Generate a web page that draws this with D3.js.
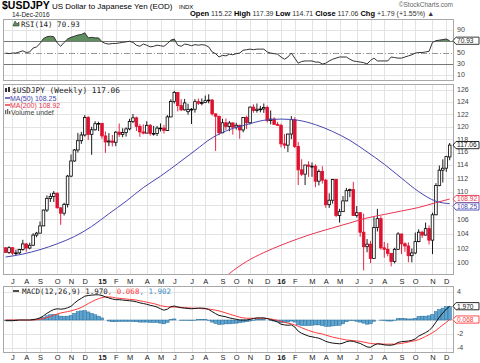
<!DOCTYPE html>
<html>
<head>
<meta charset="utf-8">
<script src="https://cdn.jsdelivr.net/npm/d3@7"></script>
<style>
  body { margin: 0; background: #fff; }
</style>
</head>
<body>
<div id="container"></div>
<script>
// weekly candles, USD/JPY, week of 2014-06-23 .. week of 2016-12-12
let opens = [102.05,101.40,102.07,101.33,101.36,101.82,102.58,102.02,102.40,103.80,104.07,105.08,107.33,109.01,109.28,109.76,107.65,106.88,108.15,112.31,114.60,116.30,117.75,118.65,121.45,118.75,119.48,120.45,
  120.50,118.50,117.55,117.70,117.50,119.10,118.75,119.03,119.62,120.80,121.40,120.03,119.13,118.95,120.20,118.90,118.90,119.75,119.75,119.37,121.55,124.10,125.60,123.40,122.70,122.40,122.78,122.80,124.05,123.80,123.90,124.22,124.32,122.05,121.65,119.00,120.60,120.00,120.57,119.90,120.20,119.45,121.45,120.60,123.15,122.60,122.80,122.85,123.10,120.95,121.20,120.35,
  120.20,117.25,117.05,118.80,121.10,116.85,113.25,112.60,113.98,113.80,113.80,111.55,113.00,111.70,108.10,108.75,111.80,106.55,107.10,108.65,110.15,110.30,106.55,106.95,104.20,102.20,102.55,100.60,104.85,106.10,102.05,101.85,101.30,100.20,101.85,103.95,102.60,102.30,100.98,101.35,102.90,104.20,103.80,104.70,103.10,106.65,110.90,113.20,113.50,115.22];
let highs = [102.15,102.27,102.10,101.80,101.90,103.15,102.70,102.75,104.05,104.25,105.70,107.38,109.45,109.75,110.09,109.90,107.75,108.38,112.48,115.60,116.45,118.98,119.15,121.85,121.70,119.95,120.85,120.77,
  120.60,119.20,118.95,118.65,119.25,120.48,119.72,119.85,121.25,122.03,121.60,120.38,120.35,120.85,120.40,120.10,120.10,120.50,120.25,121.85,124.45,125.86,125.60,124.45,124.50,123.70,123.00,124.48,124.58,124.58,125.07,125.28,124.52,122.10,121.75,121.25,121.30,120.90,120.70,120.60,120.30,121.50,121.75,123.25,123.60,123.75,123.35,123.75,123.40,122.60,121.50,120.75,
  120.45,118.80,118.85,121.68,121.50,117.55,114.87,114.00,114.55,114.38,114.10,113.32,113.80,111.90,109.75,111.90,111.90,107.50,109.35,110.55,110.45,111.45,107.90,107.00,106.82,103.25,103.00,106.32,107.50,106.45,102.85,102.70,101.35,102.05,104.20,104.00,102.80,102.80,101.95,104.15,104.60,104.40,105.55,105.15,106.95,111.25,113.90,114.85,115.40,117.39];
let lows = [101.35,101.23,101.07,101.07,101.20,101.65,101.51,101.85,102.30,103.50,104.05,105.05,107.05,108.50,108.50,107.56,105.23,106.55,107.70,112.15,114.50,115.90,117.25,118.40,117.88,115.55,119.35,119.30,
  118.05,115.86,116.90,116.85,116.90,118.35,118.30,118.40,119.40,120.55,119.28,118.35,118.75,118.90,118.55,118.55,118.50,119.20,118.88,119.30,121.50,123.75,122.45,122.50,122.60,121.93,120.40,122.25,123.50,123.45,123.80,123.78,121.75,116.15,118.62,118.95,119.45,119.25,118.70,119.50,118.06,119.08,119.60,120.35,122.23,122.25,122.30,122.20,120.65,120.35,120.28,120.10,
  116.70,116.50,115.98,118.00,116.60,110.98,112.30,110.98,112.20,112.20,110.67,110.92,111.20,107.65,107.63,108.25,106.30,105.55,107.08,108.60,109.20,106.50,106.25,103.55,99.02,101.45,99.98,100.55,104.30,101.80,100.70,100.90,99.55,99.95,101.75,101.20,101.50,100.10,100.09,101.20,102.80,103.40,103.75,102.50,101.20,106.60,110.80,111.35,112.95,114.71];
let closes = [101.40,102.07,101.33,101.36,101.82,102.58,102.02,102.40,103.80,104.07,105.08,107.33,109.01,109.28,109.76,107.65,106.88,108.15,112.31,114.60,116.30,117.75,118.65,121.45,118.75,119.48,120.45,120.50,
  118.50,117.55,117.70,117.50,119.10,118.75,119.03,119.62,120.80,121.40,120.03,119.13,118.95,120.20,118.90,118.90,119.75,119.75,119.37,121.55,124.10,125.60,123.40,122.70,123.85,122.78,122.80,124.05,123.80,123.90,124.22,124.32,122.05,121.65,119.00,120.60,120.00,120.57,119.90,120.20,119.45,121.45,120.60,123.15,122.60,122.80,122.85,123.10,120.95,121.20,120.35,120.20,
  117.25,117.05,118.80,121.10,116.85,113.25,112.60,113.98,113.80,113.80,111.55,113.00,111.70,108.10,108.75,111.80,106.55,107.10,108.65,110.15,110.30,106.55,106.95,104.20,102.20,102.55,100.60,104.85,106.10,102.05,101.85,101.30,100.20,101.85,103.95,102.60,102.30,100.98,101.35,102.90,104.20,103.80,104.70,103.10,106.65,110.90,113.20,113.50,115.27,117.06];

// moving averages, read at selected weeks (week index into the candles)
let ma50Weeks = [0,5,10,15,20,25,30,35,40,45,50,55,60,65,70,75,80,85,90,95,100,105,110,115,120,125,129];
let ma50 = [100.8,101.2,101.8,102.6,103.6,105.0,106.8,108.6,110.6,112.3,114.2,116.2,118.2,119.5,120.3,121.0,121.2,121.0,120.3,119.2,117.8,116.0,114.1,112.0,110.0,108.6,108.25];
let ma200Weeks = [61,65,70,75,80,85,90,95,100,105,110,115,120,125,129];
let ma200 = [97.0,98.6,100.2,101.4,102.4,103.3,104.1,104.8,105.5,106.2,106.7,107.2,107.7,108.4,108.92];

// RSI(14), weekly
let rsi = [49,48,49,49,51,53,50,51,58,60,66,75,78,79,78,67,61,68,74,77,79,81,82,85,76,77,76,76,
  69,66,65,66,66,67,68,69,70,68,63,61,65,63,60,61,63,62,61,66,72,74,63,61,65,64,62,64,63,64,63,60,51,48,42,45,44,47,46,48,49,54,55,56,55,56,56,56,51,49,48,47,
  42,38,42,49,40,31,34,35,35,35,33,33,29.5,31,35,38,40,42,42,42,38,35,34,33,32,29.5,36,40,35,35,35,35,42,41,40,40,42,44,46,49,50,50,51,52,68,71,72,73,74,70.93];

// MACD(12,26,9), weekly
let macd = [-0.1,-0.1,-0.1,-0.05,0,0,0,0,0.05,0.15,0.3,0.6,0.95,1.25,1.5,1.6,1.55,1.6,1.75,1.95,2.4,2.8,3.1,3.4,3.5,3.55,3.6,3.6,
  3.5,3.3,3.15,3.0,2.9,2.9,2.85,2.8,2.75,2.7,2.6,2.45,2.35,2.25,2.1,2.0,1.85,1.6,1.4,1.55,1.9,2.0,1.85,1.75,1.7,1.65,1.6,1.65,1.7,1.7,1.65,1.5,1.2,0.9,0.65,0.55,0.45,0.3,0.2,0.1,0,0,0,0.1,0.2,0.3,0.3,0.3,0.2,0.05,-0.1,-0.3,
  -0.6,-0.7,-0.75,-0.7,-1.0,-1.6,-1.9,-2.1,-2.3,-2.4,-2.5,-2.6,-2.8,-3.05,-3.2,-3.3,-3.35,-3.4,-3.3,-3.1,-3.0,-3.05,-3.2,-3.35,-3.6,-3.85,-3.9,-3.6,-3.4,-3.45,-3.55,-3.6,-3.6,-3.5,-3.2,-3.1,-3.05,-3.0,-2.9,-2.7,-2.3,-2.05,-1.8,-1.5,-1.0,-0.3,0.4,1.0,1.55,1.97];
let signal = [0,0,0,0,0,0,0,0,0,0.05,0.1,0.2,0.35,0.5,0.7,0.85,1.0,1.1,1.2,1.3,1.45,1.6,1.8,2.05,2.35,2.6,2.85,3.05,
  3.2,3.3,3.3,3.25,3.15,3.1,3.05,3.0,2.95,2.9,2.85,2.75,2.65,2.55,2.45,2.35,2.2,2.05,1.95,1.9,1.85,1.85,1.85,1.8,1.75,1.72,1.7,1.68,1.65,1.62,1.6,1.55,1.5,1.4,1.3,1.15,1.0,0.85,0.7,0.55,0.4,0.3,0.25,0.25,0.25,0.25,0.25,0.25,0.2,0.15,0.05,-0.05,
  -0.2,-0.35,-0.45,-0.55,-0.7,-0.9,-1.1,-1.3,-1.5,-1.65,-1.8,-1.9,-2.0,-2.15,-2.3,-2.45,-2.55,-2.65,-2.75,-2.85,-2.9,-2.95,-3.0,-3.05,-3.15,-3.25,-3.35,-3.4,-3.4,-3.42,-3.45,-3.45,-3.45,-3.45,-3.4,-3.35,-3.25,-3.15,-3.05,-2.95,-2.8,-2.6,-2.35,-2.1,-1.8,-1.5,-1.1,-0.7,-0.35,0.068];

let monthLabels = ["J","A","S","O","N","D","15","F","M","A","M","J","J","A","S","O","N","D","16","F","M","A","M","J","J","A","S","O","N","D"];
let priceTicks = [100,102,104,106,108,110,112,114,116,118,120,122,124,126];
let priceLabels = [100,102,104,106,110,112,114,116,118,120,122,124,126];
let rsiTicks = [90,70,50,30,10];
let rsiLabels = [90,50,30,10];
let macdTicks = [4,2,0,-2,-4];
let macdLabels = [4,-2,-4];

let w = 480;
let h = 363;
let left = 3;
let right = 453;

let rsiPanel = { top: 19, bottom: 80 };
let mainPanel = { top: 84, bottom: 274 };
let macdPanel = { top: 286, bottom: 352 };

let up = "#000";
let down = "#e0102f";
let gridColor = "#e3e3e3";
let tickColor = "#444";

let viz = d3.select("#container")
  .append("svg")
  .attr("width", w)
  .attr("height", h)
  .style("background-color", "white")
  .style("font-family", "'Liberation Sans', Arial, sans-serif");

let weeks = d3.utcMonday.range(new Date(Date.UTC(2014, 5, 23)), new Date(Date.UTC(2016, 11, 13)));
let xScale = d3.scaleUtc().domain([weeks[0], weeks[weeks.length - 1]]).range([5.6, 449.7]);
let xi = function(i) { return xScale(weeks[i]); };
let step = xi(1) - xi(0);

let months = d3.utcMonth.range(new Date(Date.UTC(2014, 6, 1)), new Date(Date.UTC(2016, 11, 2)));
let monthX = months.map(function(m) { return xScale(d3.utcMonday.ceil(m)); });

let yRsi = d3.scaleLinear().domain([10, 90]).range([75, 30]);
let yPrice = d3.scaleLog().domain([100, 126]).range([263, 90]);
let yMacd = d3.scaleLinear().domain([-4, 4]).range([348, 292]);

// panel backgrounds, grids and clips
function panel(p, name, yScale, ticks) {
  let g = viz.append("g");
  g.append("rect")
    .attr("x", left + 0.5).attr("y", p.top + 0.5)
    .attr("width", right - left).attr("height", p.bottom - p.top)
    .attr("fill", "white");
  g.selectAll(".vgrid").data(monthX).enter().append("line")
    .attr("x1", function(d) { return Math.round(d) + 0.5; })
    .attr("x2", function(d) { return Math.round(d) + 0.5; })
    .attr("y1", p.top).attr("y2", p.bottom)
    .attr("stroke", gridColor);
  g.selectAll(".hgrid").data(ticks).enter().append("line")
    .attr("x1", left).attr("x2", right)
    .attr("y1", function(d) { return Math.round(yScale(d)) + 0.5; })
    .attr("y2", function(d) { return Math.round(yScale(d)) + 0.5; })
    .attr("stroke", gridColor);
  viz.append("clipPath").attr("id", name)
    .append("rect")
    .attr("x", left).attr("y", p.top)
    .attr("width", right - left).attr("height", p.bottom - p.top);
  return g;
}

function frame(p) {
  viz.append("rect")
    .attr("x", left + 0.5).attr("y", p.top + 0.5)
    .attr("width", right - left).attr("height", p.bottom - p.top)
    .attr("fill", "none")
    .attr("stroke", "#a8a8a8");
}

function rightTicks(ticks, yScale) {
  viz.append("g").selectAll("text").data(ticks).enter().append("text")
    .text(function(d) { return d; })
    .attr("x", 457)
    .attr("y", function(d) { return yScale(d) + 2.4; })
    .attr("font-size", "7px")
    .attr("fill", tickColor);
}

function tag(yv, label, color) {
  let g = viz.append("g");
  g.append("path")
    .attr("d", "M453," + yv + "L456," + (yv - 3.6) + "L479," + (yv - 3.6) + "L479," + (yv + 3.6) + "L456," + (yv + 3.6) + "Z")
    .attr("fill", "white")
    .attr("stroke", color)
    .attr("stroke-width", 0.9);
  g.append("text")
    .text(label)
    .attr("x", 457)
    .attr("y", yv + 2.4)
    .attr("font-size", "6.6px")
    .attr("fill", color);
}

function monthAxis(yText) {
  viz.append("g").selectAll("text").data(monthLabels).enter().append("text")
    .text(function(d) { return d; })
    .attr("x", function(d, i) { return monthX[i] + 0.5; })
    .attr("y", yText)
    .attr("text-anchor", "middle")
    .attr("font-size", "7.5px")
    .attr("font-weight", function(d) { return d.length > 1 ? "bold" : "normal"; })
    .attr("fill", "#222");
}

// ---------- header ----------
viz.append("text").text("$USDJPY")
  .attr("x", 2).attr("y", 9)
  .attr("font-size", "10.5px").attr("font-weight", "bold");
viz.append("text").text("US Dollar to Japanese Yen (EOD)")
  .attr("x", 52).attr("y", 9)
  .attr("font-size", "8px");
viz.append("text").text("INDX")
  .attr("x", 179).attr("y", 9)
  .attr("font-size", "6px");
viz.append("text").text("14-Dec-2016")
  .attr("x", 12).attr("y", 17)
  .attr("font-size", "6.5px").attr("fill", "#222");
viz.append("text").text("\u00a9StockCharts.com")
  .attr("x", 453).attr("y", 7)
  .attr("text-anchor", "end")
  .attr("font-size", "6.5px").attr("fill", "#666");

let quote = viz.append("text")
  .attr("x", 190).attr("y", 16)
  .attr("font-size", "7px");
let quoteParts = [["Open", " 115.22 "], ["High", " 117.39 "], ["Low", " 114.71 "], ["Close", " 117.06 "], ["Chg", " +1.79 (+1.55%) \u25b2"]];
quoteParts.forEach(function(p) {
  quote.append("tspan").text(p[0]).attr("font-weight", "bold").attr("font-size", "7.5px");
  quote.append("tspan").text(p[1]).attr("fill", "#333");
});

// ---------- RSI panel ----------
panel(rsiPanel, "clipRsi", yRsi, [90, 10]);
viz.append("line")
  .attr("x1", left).attr("x2", right)
  .attr("y1", Math.round(yRsi(50)) + 0.5).attr("y2", Math.round(yRsi(50)) + 0.5)
  .attr("stroke", "#999").attr("stroke-dasharray", "6,2,1,2");
[70, 30].forEach(function(v) {
  viz.append("line")
    .attr("x1", left).attr("x2", right)
    .attr("y1", Math.round(yRsi(v)) + 0.5).attr("y2", Math.round(yRsi(v)) + 0.5)
    .attr("stroke", "#777");
});

viz.append("clipPath").attr("id", "clipOver70")
  .append("rect")
  .attr("x", left).attr("y", rsiPanel.top)
  .attr("width", right - left).attr("height", yRsi(70) - rsiPanel.top);

let rsiArea = d3.area()
  .x(function(d, i) { return xi(i); })
  .y0(yRsi(70))
  .y1(function(d) { return yRsi(d); });
viz.append("path")
  .datum(rsi)
  .attr("d", rsiArea)
  .attr("clip-path", "url(#clipOver70)")
  .attr("fill", "#5f8f5f");

let rsiLine = d3.line()
  .x(function(d, i) { return xi(i); })
  .y(function(d) { return yRsi(d); });
viz.append("path")
  .datum(rsi)
  .attr("d", rsiLine)
  .attr("clip-path", "url(#clipRsi)")
  .attr("fill", "none")
  .attr("stroke", "#333")
  .attr("stroke-width", 1);
frame(rsiPanel);

// legend
viz.append("path")
  .attr("d", "M13,26 L15,21 L17,24 L19,22 L19,26 Z")
  .attr("fill", "#5f8f5f").attr("stroke", "#333").attr("stroke-width", 0.6);
viz.append("text").text("RSI(14) 70.93")
  .attr("x", 21).attr("y", 27)
  .attr("font-family", "'DejaVu Sans Mono', monospace")
  .attr("font-size", "7.5px").attr("fill", "#222");

rightTicks(rsiLabels, yRsi);
tag(yRsi(70.93), "70.93", "#222");

// ---------- price panel ----------
panel(mainPanel, "clipMain", yPrice, priceTicks);

let candles = viz.append("g").attr("clip-path", "url(#clipMain)");
let datagroups = candles.selectAll(".candle").data(closes).enter()
  .append("g")
  .attr("class", "candle");

function isUp(d, i) { return closes[i] >= opens[i]; }

datagroups.append("line")
  .attr("x1", function(d, i) { return xi(i); })
  .attr("x2", function(d, i) { return xi(i); })
  .attr("y1", function(d, i) { return yPrice(highs[i]); })
  .attr("y2", function(d, i) { return yPrice(lows[i]); })
  .attr("stroke", function(d, i) { return isUp(d, i) ? up : down; })
  .attr("stroke-width", 0.9);

datagroups.append("rect")
  .attr("x", function(d, i) { return xi(i) - 1.3; })
  .attr("width", 2.6)
  .attr("y", function(d, i) { return yPrice(Math.max(opens[i], closes[i])); })
  .attr("height", function(d, i) {
    return Math.max(0.8, yPrice(Math.min(opens[i], closes[i])) - yPrice(Math.max(opens[i], closes[i])));
  })
  .attr("fill", function(d, i) { return isUp(d, i) ? "white" : down; })
  .attr("stroke", function(d, i) { return isUp(d, i) ? up : down; })
  .attr("stroke-width", 0.8);

let maLine = d3.line()
  .curve(d3.curveMonotoneX)
  .x(function(d) { return xi(d[0]); })
  .y(function(d) { return yPrice(d[1]); });

viz.append("path")
  .datum(ma200Weeks.map(function(wk, i) { return [wk, ma200[i]]; }))
  .attr("d", maLine)
  .attr("clip-path", "url(#clipMain)")
  .attr("fill", "none")
  .attr("stroke", "#e8344e")
  .attr("stroke-width", 1);

viz.append("path")
  .datum(ma50Weeks.map(function(wk, i) { return [wk, ma50[i]]; }))
  .attr("d", maLine)
  .attr("clip-path", "url(#clipMain)")
  .attr("fill", "none")
  .attr("stroke", "#4646b0")
  .attr("stroke-width", 1);
frame(mainPanel);

// legend
viz.append("rect").attr("x", 5).attr("y", 88).attr("width", 2).attr("height", 4).attr("fill", "#333");
viz.append("rect").attr("x", 8).attr("y", 87).attr("width", 2).attr("height", 5).attr("fill", "#333");
viz.append("text").text("$USDJPY (Weekly) 117.06")
  .attr("x", 12).attr("y", 93)
  .attr("font-family", "'DejaVu Sans Mono', monospace")
  .attr("font-size", "7.8px").attr("fill", "#222");
viz.append("line").attr("x1", 5).attr("x2", 10).attr("y1", 98).attr("y2", 98).attr("stroke", "#4646b0").attr("stroke-width", 1.5);
viz.append("text").text("MA(50) 108.25")
  .attr("x", 10).attr("y", 100.5)
  .attr("font-size", "7px").attr("fill", "#4646b0");
viz.append("line").attr("x1", 5).attr("x2", 10).attr("y1", 105).attr("y2", 105).attr("stroke", "#e8344e").attr("stroke-width", 1.5);
viz.append("text").text("MA(200) 108.92")
  .attr("x", 10).attr("y", 107.5)
  .attr("font-size", "7px").attr("fill", "#e8344e");
viz.append("rect").attr("x", 5).attr("y", 110).attr("width", 1.3).attr("height", 4).attr("fill", "#666");
viz.append("rect").attr("x", 7).attr("y", 109).attr("width", 1.3).attr("height", 5).attr("fill", "#666");
viz.append("rect").attr("x", 9).attr("y", 111).attr("width", 1.3).attr("height", 3).attr("fill", "#666");
viz.append("text").text("Volume undef")
  .attr("x", 11).attr("y", 114.5)
  .attr("font-size", "7px").attr("fill", "#444");

rightTicks(priceLabels, yPrice);
tag(yPrice(117.06), "117.06", "#111");
// the two MA tags sit one under the other, as on the reference
tag(yPrice(108.92), "108.92", "#e8344e");
tag(yPrice(108.92) + 7.4, "108.25", "#4646b0");

monthAxis(283.5);

// ---------- MACD panel ----------
panel(macdPanel, "clipMacd", yMacd, macdTicks);

let hist = viz.append("g").attr("clip-path", "url(#clipMacd)");
hist.selectAll("rect").data(macd).enter().append("rect")
  .attr("x", function(d, i) { return xi(i) - step / 2; })
  .attr("width", step)
  .attr("y", function(d, i) { return Math.min(yMacd(0), yMacd(d - signal[i])); })
  .attr("height", function(d, i) { return Math.abs(yMacd(d - signal[i]) - yMacd(0)); })
  .attr("fill", "#5fa3cf")
  .attr("stroke", "#2a6f9c")
  .attr("stroke-width", 0.5);

let macdLine = d3.line()
  .x(function(d, i) { return xi(i); })
  .y(function(d) { return yMacd(d); });

viz.append("path")
  .datum(signal)
  .attr("d", macdLine)
  .attr("clip-path", "url(#clipMacd)")
  .attr("fill", "none")
  .attr("stroke", "#ff3b3b")
  .attr("stroke-width", 1);

viz.append("path")
  .datum(macd)
  .attr("d", macdLine)
  .attr("clip-path", "url(#clipMacd)")
  .attr("fill", "none")
  .attr("stroke", "#111")
  .attr("stroke-width", 1);
frame(macdPanel);

// legend
viz.append("line").attr("x1", 13).attr("x2", 19).attr("y1", 291).attr("y2", 291).attr("stroke", "#111").attr("stroke-width", 1.5);
let macdLegend = viz.append("text")
  .attr("x", 22).attr("y", 294)
  .attr("font-family", "'DejaVu Sans Mono', monospace")
  .attr("font-size", "7.5px");
macdLegend.append("tspan").text("MACD(12,26,9) 1.970").attr("fill", "#222");
macdLegend.append("tspan").text(", 0.068").attr("fill", "#ff3b3b");
macdLegend.append("tspan").text(", 1.902").attr("fill", "#3a8fc4");

rightTicks(macdLabels, yMacd);
tag(yMacd(1.970), "1.970", "#111");
tag(yMacd(0.068), "0.068", "#ff3b3b");

monthAxis(359.5);
</script>
</body>
</html>
